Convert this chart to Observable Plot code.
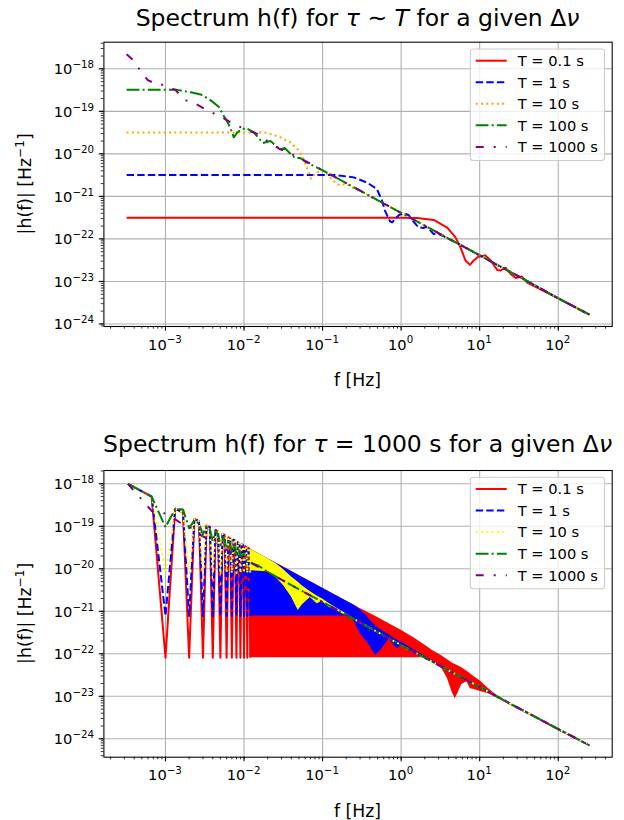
<!DOCTYPE html>
<html><head><meta charset="utf-8">
<script src="https://cdn.jsdelivr.net/npm/d3@7"></script>
<script src="https://cdn.jsdelivr.net/npm/@observablehq/plot@0.6"></script>
<style>
body{margin:0;background:#fff;}
#fig{position:relative;width:624px;height:820px;background:#fff;}
#fig svg{position:absolute;left:0;}
</style></head><body><div id="fig"></div>
<script>
// ---------- axes / labels ----------
const xTicks = [1e-3, 1e-2, 1e-1, 1, 10, 100];
const xTickLabels = ["10^{−3}", "10^{−2}", "10^{−1}", "10^{0}", "10^{1}", "10^{2}"];
const yTicks = [1e-24, 1e-23, 1e-22, 1e-21, 1e-20, 1e-19, 1e-18];
const yTickLabels = ["10^{−24}", "10^{−23}", "10^{−22}", "10^{−21}", "10^{−20}", "10^{−19}", "10^{−18}"];
const seriesLabels = ["T = 0.1 s", "T = 1 s", "T = 10 s", "T = 100 s", "T = 1000 s"];
const xLabel = "f [Hz]";
const yLabel = "|h(f)| [Hz^{−1}]";

// ---------- top panel: tau ~ T ----------
const topT01 = [[3.2e-4,3.15e-22],[1.0,3.15e-22],[1.6,3.1e-22],[2.6,2.8e-22],[3.86,1.85e-22],[4.9,1.1e-22],[5.7,6.3e-23],[6.6,3.1e-23],[7.5,2.45e-23],[8.4,3.1e-23],[9.6,3.8e-23],[11.8,4.1e-23],[13.8,3.1e-23],[16.8,1.85e-23],[18.3,1.8e-23],[21.3,2.1e-23],[24.8,1.5e-23],[28.7,1.2e-23],[34.5,1.3e-23],[40,9.5e-24],[48.5,7.9e-24],[100,4.0e-24],[250,1.65e-24]];
const topT1 = [[3.2e-4,3.2e-21],[0.14,3.2e-21],[0.25,2.8e-21],[0.37,2.1e-21],[0.49,1.5e-21],[0.57,8.0e-22],[0.62,4.7e-22],[0.72,2.6e-22],[0.77,2.45e-22],[0.84,3.0e-22],[0.95,3.7e-22],[1.1,4.0e-22],[1.25,3.6e-22],[1.4,2.7e-22],[1.65,1.9e-22],[1.9,1.8e-22],[2.1,1.9e-22],[2.35,1.6e-22],[2.6,1.3e-22],[3.0,1.3e-22],[3.5,1.15e-22],[5,8.2e-23],[10,4.1e-23],[20,2.05e-23],[50,8.2e-24],[100,4.0e-24],[250,1.65e-24]];
const topT10 = [[3.2e-4,3.2e-20],[0.016,3.2e-20],[0.02,3.1e-20],[0.029,2.45e-20],[0.039,1.85e-20],[0.05,1.2e-20],[0.057,7.6e-21],[0.065,4.1e-21],[0.071,2.6e-21],[0.08,3.4e-21],[0.093,4.0e-21],[0.1,4.1e-21],[0.12,3.0e-21],[0.15,2.0e-21],[0.169,1.8e-21],[0.2,2.0e-21],[0.25,1.55e-21],[0.3,1.35e-21],[0.5,8.2e-22],[1,4.1e-22],[2,2.05e-22],[5,8.2e-23],[10,4.1e-23],[20,2.05e-23],[50,8.2e-24],[100,4.0e-24],[250,1.65e-24]];
const topT100 = [[3.2e-4,3.2e-19],[1.4e-3,3.2e-19],[2.1e-3,2.8e-19],[2.8e-3,2.5e-19],[3.7e-3,1.86e-19],[4.8e-3,1.26e-19],[5.5e-3,7.9e-20],[6.2e-3,5.5e-20],[6.9e-3,3.5e-20],[7.4e-3,2.45e-20],[8.3e-3,3.3e-20],[1.05e-2,4.1e-20],[1.33e-2,3.2e-20],[1.55e-2,2.3e-20],[1.74e-2,1.8e-20],[2.17e-2,2.0e-20],[2.5e-2,1.6e-20],[2.9e-2,1.26e-20],[3.3e-2,1.38e-20],[3.8e-2,1.05e-20],[4.5e-2,7.9e-21],[5.2e-2,8.0e-21],[6e-2,6.6e-21],[7e-2,5.7e-21],[0.1,4.1e-21],[0.2,2.05e-21],[0.5,8.2e-22],[1,4.1e-22],[2,2.05e-22],[5,8.2e-23],[10,4.1e-23],[20,2.05e-23],[50,8.2e-24],[100,4.0e-24],[250,1.65e-24]];
const topT1000 = [[3.2e-4,2.2e-18],[3.8e-4,1.66e-18],[4.7e-4,9.5e-19],[5.95e-4,5.4e-19],[8e-4,4.2e-19],[9.4e-4,4.2e-19],[1.34e-3,3.2e-19],[1.7e-3,1.9e-19],[2.5e-3,1.45e-19],[3.6e-3,1.0e-19],[5e-3,7.6e-20],[7.1e-3,5.2e-20],[1.0e-2,3.9e-20],[1.47e-2,2.95e-20],[1.97e-2,2.0e-20],[2.8e-2,1.32e-20],[4e-2,1.0e-20],[0.07,5.9e-21],[0.1,4.1e-21],[0.2,2.05e-21],[0.5,8.2e-22],[1,4.1e-22],[2,2.05e-22],[5,8.2e-23],[10,4.1e-23],[20,2.05e-23],[50,8.2e-24],[100,4.0e-24],[250,1.65e-24]];

// ---------- bottom panel: tau = 1000 s ----------
// resolved low-frequency samples (dips every third sample)
const spikeF = [3.33e-4,6.67e-4,1.0e-3,1.33e-3,1.67e-3,2.0e-3,2.33e-3,2.67e-3,3.0e-3,3.33e-3,3.67e-3,4.0e-3,4.33e-3,4.67e-3,5.0e-3,5.33e-3,5.67e-3,6.0e-3,6.33e-3,6.67e-3,7.0e-3,7.33e-3,7.67e-3,8.0e-3,8.33e-3,8.67e-3,9.0e-3,9.33e-3,9.67e-3,1.0e-2,1.033e-2,1.067e-2,1.1e-2,1.133e-2,1.167e-2,1.2e-2];
const redSpikeH = [1.0e-18,5.0e-19,8.1e-23,2.6e-19,2.1e-19,8.1e-23,1.5e-19,1.3e-19,8.1e-23,1.05e-19,9.5e-20,8.1e-23,8.1e-20,7.5e-20,8.1e-23,6.6e-20,6.2e-20,8.1e-23,5.5e-20,5.2e-20,8.1e-23,4.8e-20,4.6e-20,8.1e-23,4.2e-20,4.0e-20,8.1e-23,3.75e-20,3.6e-20,8.1e-23,3.4e-20,3.3e-20,8.1e-23,3.1e-20,3.0e-20,8.1e-23];
const blueSpikeH = [1.0e-18,5.0e-19,7.8e-22,2.6e-19,2.1e-19,7.8e-22,1.5e-19,1.3e-19,7.8e-22,1.05e-19,9.5e-20,7.8e-22,8.1e-20,7.5e-20,7.8e-22,6.6e-20,6.2e-20,7.8e-22,5.5e-20,5.2e-20,7.8e-22,4.8e-20,4.6e-20,7.8e-22,4.2e-20,4.0e-20,7.8e-22,3.75e-20,3.6e-20,7.8e-22,3.4e-20,3.3e-20,7.8e-22,3.1e-20,3.0e-20,7.8e-22];
const yellowSpikeH = [1.0e-18,5.0e-19,8.0e-21,2.6e-19,2.1e-19,8.0e-21,1.5e-19,1.3e-19,8.0e-21,1.05e-19,9.5e-20,8.0e-21,8.1e-20,7.5e-20,8.0e-21,6.6e-20,6.2e-20,8.0e-21,5.5e-20,5.2e-20,8.0e-21,4.8e-20,4.6e-20,8.0e-21,4.2e-20,4.0e-20,8.0e-21,3.75e-20,3.6e-20,8.0e-21,3.4e-20,3.3e-20,8.0e-21,3.1e-20,3.0e-20,8.0e-21];
// unresolved (densely oscillating) ranges: lower and upper envelope
const redBandF  = [0.012,0.03,0.1,0.3,0.45,1.0,1.5,2.1,2.5,3.2,3.9,4.5,4.9,5.3,5.9,6.9,7.6,8.5,10.2,13,20,36,60,100,250];
const redBandLo = [8.1e-23,8.1e-23,8.1e-23,8.1e-23,8.1e-23,8.1e-23,8.1e-23,8.1e-23,6.6e-23,5.0e-23,2.6e-23,1.2e-23,8.7e-24,1.2e-23,1.9e-23,2.2e-23,1.5e-23,1.45e-23,1.3e-23,1.15e-23,7.5e-24,4.2e-24,2.6e-24,1.55e-24,6.7e-25];
const redBandHi = [2.9e-20,1.17e-20,3.5e-21,1.17e-21,8.0e-22,3.6e-22,2.3e-22,1.5e-22,1.2e-22,9.3e-23,7.2e-23,6.0e-23,5.6e-23,5.2e-23,4.7e-23,3.9e-23,3.4e-23,2.9e-23,2.3e-23,1.5e-23,8.0e-24,4.3e-24,2.7e-24,1.65e-24,7.0e-25];
const blueBandF  = [0.012,0.05,0.1,0.2,0.25,0.3,0.36,0.41,0.47,0.55,0.7,0.81,0.89,1.03,1.19,1.5,2.0,3.0];
const blueBandLo = [7.8e-22,7.8e-22,7.8e-22,7.8e-22,6.0e-22,3.0e-22,2.0e-22,1.45e-22,9.1e-23,1.2e-22,2.2e-22,1.6e-22,1.3e-22,1.6e-22,1.3e-22,1.0e-22,7.6e-23,5.1e-23];
const blueBandHi = [2.9e-20,7.0e-21,3.5e-21,1.75e-21,1.4e-21,1.1e-21,8.0e-22,6.0e-22,4.6e-22,3.7e-22,2.8e-22,2.3e-22,2.1e-22,1.85e-22,1.55e-22,1.2e-22,8.8e-23,5.7e-23];
const yellowBandF  = [0.012,0.02,0.026,0.032,0.04,0.049,0.055,0.07,0.085,0.1,0.12,0.15,0.2];
const yellowBandLo = [9.0e-21,8.5e-21,6.0e-21,4.0e-21,2.2e-21,1.05e-21,1.4e-21,2.1e-21,1.5e-21,1.7e-21,1.25e-21,1.05e-21,7.9e-22];
const yellowBandHi = [2.9e-20,1.75e-20,1.3e-20,9.5e-21,6.5e-21,4.8e-21,4.0e-21,2.9e-21,2.3e-21,1.95e-21,1.55e-21,1.2e-21,8.8e-22];
const blueTail = [[3.0,5.4e-23],[10,1.65e-23],[30,5.5e-24],[100,1.7e-24],[250,7.0e-25]];
const yellowTail = [[0.2,8.3e-22],[1,1.6e-22],[3,5.4e-23],[10,1.65e-23],[30,5.5e-24],[100,1.7e-24],[250,7.0e-25]];
const botT100 = [[3.33e-4,1.0e-18],[6.67e-4,5.0e-19],[1.0e-3,9.5e-20],[1.33e-3,2.6e-19],[1.67e-3,2.5e-19],[2.0e-3,9.0e-20],[2.33e-3,1.4e-19],[2.67e-3,1.15e-19],[3.0e-3,6.5e-20],[3.33e-3,1.0e-19],[3.67e-3,8.5e-20],[4.0e-3,4.5e-20],[4.33e-3,7.5e-20],[4.67e-3,6.5e-20],[5.0e-3,3.6e-20],[5.5e-3,5.5e-20],[6e-3,3.0e-20],[6.5e-3,4.5e-20],[7e-3,2.5e-20],[7.5e-3,3.8e-20],[8e-3,2.2e-20],[8.5e-3,3.3e-20],[9e-3,2.0e-20],[1e-2,2.2e-20],[1.2e-2,1.4e-20],[1.5e-2,1.2e-20],[2e-2,8.5e-21],[3e-2,5.5e-21],[0.1,1.65e-21],[0.3,5.5e-22],[1,1.6e-22],[3,5.4e-23],[10,1.65e-23],[30,5.5e-24],[100,1.7e-24],[250,7.0e-25]];
const botT1000 = [[3.33e-4,1.0e-18],[6.67e-4,2.3e-19],[1.0e-3,2.0e-19],[1.33e-3,1.45e-19],[1.67e-3,1.1e-19],[2.0e-3,9.5e-20],[2.33e-3,8.7e-20],[2.67e-3,6.6e-20],[3.33e-3,5.2e-20],[5e-3,3.4e-20],[1e-2,1.7e-20],[2e-2,8.4e-21],[0.05,3.3e-21],[0.1,1.65e-21],[0.3,5.5e-22],[1,1.6e-22],[3,5.4e-23],[10,1.65e-23],[30,5.5e-24],[100,1.7e-24],[250,7.0e-25]];

// ---------- styles ----------
const FONT = '"DejaVu Sans", sans-serif';
const topColors = ["red", "blue", "orange", "green", "purple"];
const botColors = ["red", "blue", "yellow", "green", "purple"];
const dashes = [null, "7.4,3.2", "2,3.3", "12.8,3.2,2,3.2", "8,10,2,10"];
const LW = 2;

const rows = a => a.map(([f, h]) => ({f, h}));
const zipRows = (fs, hs) => fs.map((f, i) => ({f, h: hs[i]}));
const band = (fs, lo, hi) => fs.map((f, i) => ({f, lo: lo[i], hi: hi[i]}));

const xDomain = [10 ** -3.784, 10 ** 2.687];
const ML = 103.4, MR = 12.3, W = 624, H = 410;

function lineMark(data, i, colors) {
  const o = {x: "f", y: "h", stroke: colors[i], strokeWidth: LW, strokeLinejoin: "round", strokeLinecap: "butt"};
  if (dashes[i]) o.strokeDasharray = dashes[i];
  return Plot.line(data, o);
}
function areaMark(data, color) {
  return Plot.areaY(data, {x: "f", y1: "lo", y2: "hi", fill: color, fillOpacity: 1});
}

function supText(parent, x, y, str, size, anchor, rotate) {
  const t = parent.append("text").attr("x", x).attr("y", y)
    .attr("text-anchor", anchor).attr("font-family", FONT)
    .attr("font-size", size).attr("fill", "black");
  if (rotate) t.attr("transform", `rotate(${rotate},${x},${y})`);
  const m = str.match(/^(.*?)\^\{(.*?)\}(.*)$/);
  if (!m) { t.text(str); return t; }
  const shift = 0.42 * size;
  t.append("tspan").text(m[1]);
  t.append("tspan").attr("dy", -shift).attr("font-size", 0.7 * size).text(m[2]);
  if (m[3]) t.append("tspan").attr("dy", shift).text(m[3]);
  return t;
}

function panel(cfg) {
  const plot = Plot.plot({
    width: W, height: H,
    marginLeft: ML, marginRight: MR, marginTop: cfg.mt, marginBottom: cfg.mb,
    style: {background: "transparent", fontFamily: FONT, overflow: "visible"},
    x: {type: "log", domain: xDomain, label: null},
    y: {type: "log", domain: cfg.yDomain, label: null},
    marks: [
      Plot.gridX(xTicks, {stroke: "#b0b0b0", strokeOpacity: 1, strokeWidth: 1.07}),
      Plot.gridY(yTicks, {stroke: "#b0b0b0", strokeOpacity: 1, strokeWidth: 1.07}),
      ...cfg.marks,
      Plot.axisX({ticks: 60, anchor: "bottom", tickSize: 2.67, strokeWidth: 0.8, tickFormat: () => "", label: null}),
      Plot.axisX(xTicks, {anchor: "bottom", tickSize: 4.67, strokeWidth: 1.07, tickFormat: () => "", label: null}),
      Plot.axisY({ticks: 60, anchor: "left", tickSize: 2.67, strokeWidth: 0.8, tickFormat: () => "", label: null}),
      Plot.axisY(yTicks, {anchor: "left", tickSize: 4.67, strokeWidth: 1.07, tickFormat: () => "", label: null}),
      Plot.frame({stroke: "black", strokeWidth: 1.07})
    ]
  });
  plot.style.top = cfg.top + "px";
  document.getElementById("fig").appendChild(plot);
  const svg = d3.select(plot);
  const sx = plot.scale("x"), sy = plot.scale("y");
  const frameBottom = H - cfg.mb;
  const cx = (ML + (W - MR)) / 2;
  const g = svg.append("g");
  xTicks.forEach((v, i) => supText(g, sx.apply(v), frameBottom + 23.5, xTickLabels[i], 14.67, "middle"));
  yTicks.forEach((v, i) => supText(g, ML - 9.34, sy.apply(v) + 6, yTickLabels[i], 14.67, "end"));
  supText(g, cx, frameBottom + 60, xLabel, 17.3, "middle");
  supText(g, 31, (cfg.mt + frameBottom) / 2, yLabel, 17.3, "middle", -90);
  // title
  const tt = g.append("text").attr("x", cx).attr("y", cfg.titleY).attr("text-anchor", "middle")
    .attr("font-family", FONT).attr("font-size", 23.5).attr("fill", "black");
  cfg.title.forEach(([s, it]) => tt.append("tspan").attr("font-style", it ? "italic" : "normal").text(s));
  // legend
  const lx = 470.3, ly = cfg.mt + 7.3, lw = 134.3, lh = 111.5;
  const lg = g.append("g");
  lg.append("rect").attr("x", lx).attr("y", ly).attr("width", lw).attr("height", lh)
    .attr("rx", 3).attr("fill", "white").attr("fill-opacity", 0.8).attr("stroke", "#cccccc").attr("stroke-width", 1.07);
  seriesLabels.forEach((lab, i) => {
    const yy = ly + 11.7 + i * 21.55;
    const ln = lg.append("line").attr("x1", lx + 5.4).attr("x2", lx + 36.4).attr("y1", yy).attr("y2", yy)
      .attr("stroke", cfg.colors[i]).attr("stroke-width", LW);
    if (dashes[i]) ln.attr("stroke-dasharray", dashes[i]);
    lg.append("text").attr("x", lx + 47.4).attr("y", yy + 5.3).attr("text-anchor", "start").attr("font-family", FONT)
      .attr("font-size", 14.67).attr("fill", "black").text(lab);
  });
}

panel({
  top: 0, mt: 41.7, mb: 84, yDomain: [10 ** -24.06, 10 ** -17.374], titleY: 26, colors: topColors,
  title: [["Spectrum h(f) for ", false], ["τ", true], [" ∼ ", false], ["T", true], [" for a given Δ", false], ["ν", true]],
  marks: [
    lineMark(rows(topT01), 0, topColors),
    lineMark(rows(topT1), 1, topColors),
    lineMark(rows(topT10), 2, topColors),
    lineMark(rows(topT100), 3, topColors),
    lineMark(rows(topT1000), 4, topColors)
  ]
});

panel({
  top: 410, mt: 60, mb: 63.3, yDomain: [10 ** -24.433, 10 ** -17.687], titleY: 42, colors: botColors,
  title: [["Spectrum h(f) for ", false], ["τ", true], [" = 1000 s for a given Δ", false], ["ν", true]],
  marks: [
    areaMark(band(redBandF, redBandLo, redBandHi), "red"),
    lineMark(zipRows(spikeF, redSpikeH), 0, botColors),
    areaMark(band(blueBandF, blueBandLo, blueBandHi), "blue"),
    lineMark(zipRows(spikeF, blueSpikeH), 1, botColors),
    lineMark(rows(blueTail), 1, botColors),
    areaMark(band(yellowBandF, yellowBandLo, yellowBandHi), "yellow"),
    lineMark(zipRows(spikeF, yellowSpikeH), 2, botColors),
    lineMark(rows(yellowTail), 2, botColors),
    lineMark(rows(botT100), 3, botColors),
    lineMark(rows(botT1000), 4, botColors)
  ]
});
</script></body></html>
